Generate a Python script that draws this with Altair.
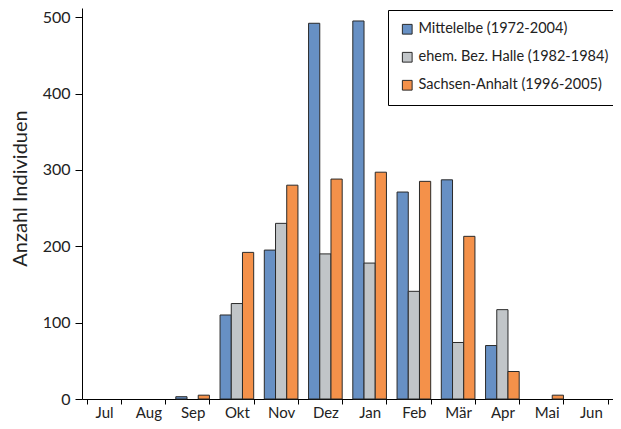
import altair as alt
import pandas as pd

months = ["Jul", "Aug", "Sep", "Okt", "Nov", "Dez", "Jan", "Feb", "Mär", "Apr", "Mai", "Jun"]
series = ["Mittelelbe (1972-2004)", "ehem. Bez. Halle (1982-1984)", "Sachsen-Anhalt (1996-2005)"]
mittelelbe = [0, 0, 3, 110, 195, 492, 495, 271, 287, 70, 0, 0]
halle = [0, 0, 0, 125, 230, 190, 178, 141, 74, 117, 0, 0]
sachsen = [0, 0, 5, 192, 280, 288, 297, 285, 213, 36, 5, 0]
colors = ["#6790c4", "#c1c5c8", "#f4914a"]

rows = []
for name, vals in zip(series, [mittelelbe, halle, sachsen]):
    for m, v in zip(months, vals):
        rows.append({"Monat": m, "Reihe": name, "Anzahl": v})
df = pd.DataFrame(rows)

FONT = "Lato"

chart = alt.Chart(df).transform_filter("datum.Anzahl > 0").mark_bar(
    stroke="#2a2a2a", strokeWidth=1
).encode(
    x=alt.X("Monat:N", sort=months, title=None,
            scale=alt.Scale(domain=months, paddingInner=0.24, paddingOuter=0.12),
            axis=alt.Axis(labelAngle=0, tickBand="extent", tickSize=5,
                          labelFontSize=15, labelPadding=1, domainColor="black",
                          tickColor="black", labelColor="#222")),
    xOffset=alt.XOffset("Reihe:N", sort=series,
                        scale=alt.Scale(domain=series, paddingInner=0, paddingOuter=0)),
    y=alt.Y("Anzahl:Q", title="Anzahl Individuen",
            scale=alt.Scale(domain=[0, 512], nice=False),
            axis=alt.Axis(values=[0, 100, 200, 300, 400, 500], tickSize=7,
                          labelFontSize=16, labelPadding=5, titleFontSize=20,
                          titleFontWeight="normal", titleX=-62, titleY=180,
                          titleAngle=270, titleAlign="center", titleBaseline="middle",
                          grid=False,
                          domainColor="black", tickColor="black", labelColor="#222",
                          titleColor="#222")),
    color=alt.Color("Reihe:N", sort=series,
                    scale=alt.Scale(domain=series, range=colors),
                    legend=alt.Legend(title=None, orient="none", legendX=306, legendY=2,
                                      symbolType="square", symbolSize=95,
                                      symbolStrokeColor="#2a2a2a", symbolStrokeWidth=1,
                                      labelFontSize=14.5, labelColor="#222", labelLimit=400,
                                      rowPadding=12, padding=12,
                                      strokeColor="black", fillColor="white",
                                      cornerRadius=0)),
).properties(
    width=531, height=391,
    autosize=alt.AutoSizeParams(type="none"),
    padding={"left": 74, "top": 0, "right": 0, "bottom": 22},
).configure(font=FONT).configure_view(stroke=None)

chart.save("out.html", embed_options={"renderer": "svg", "actions": False})
